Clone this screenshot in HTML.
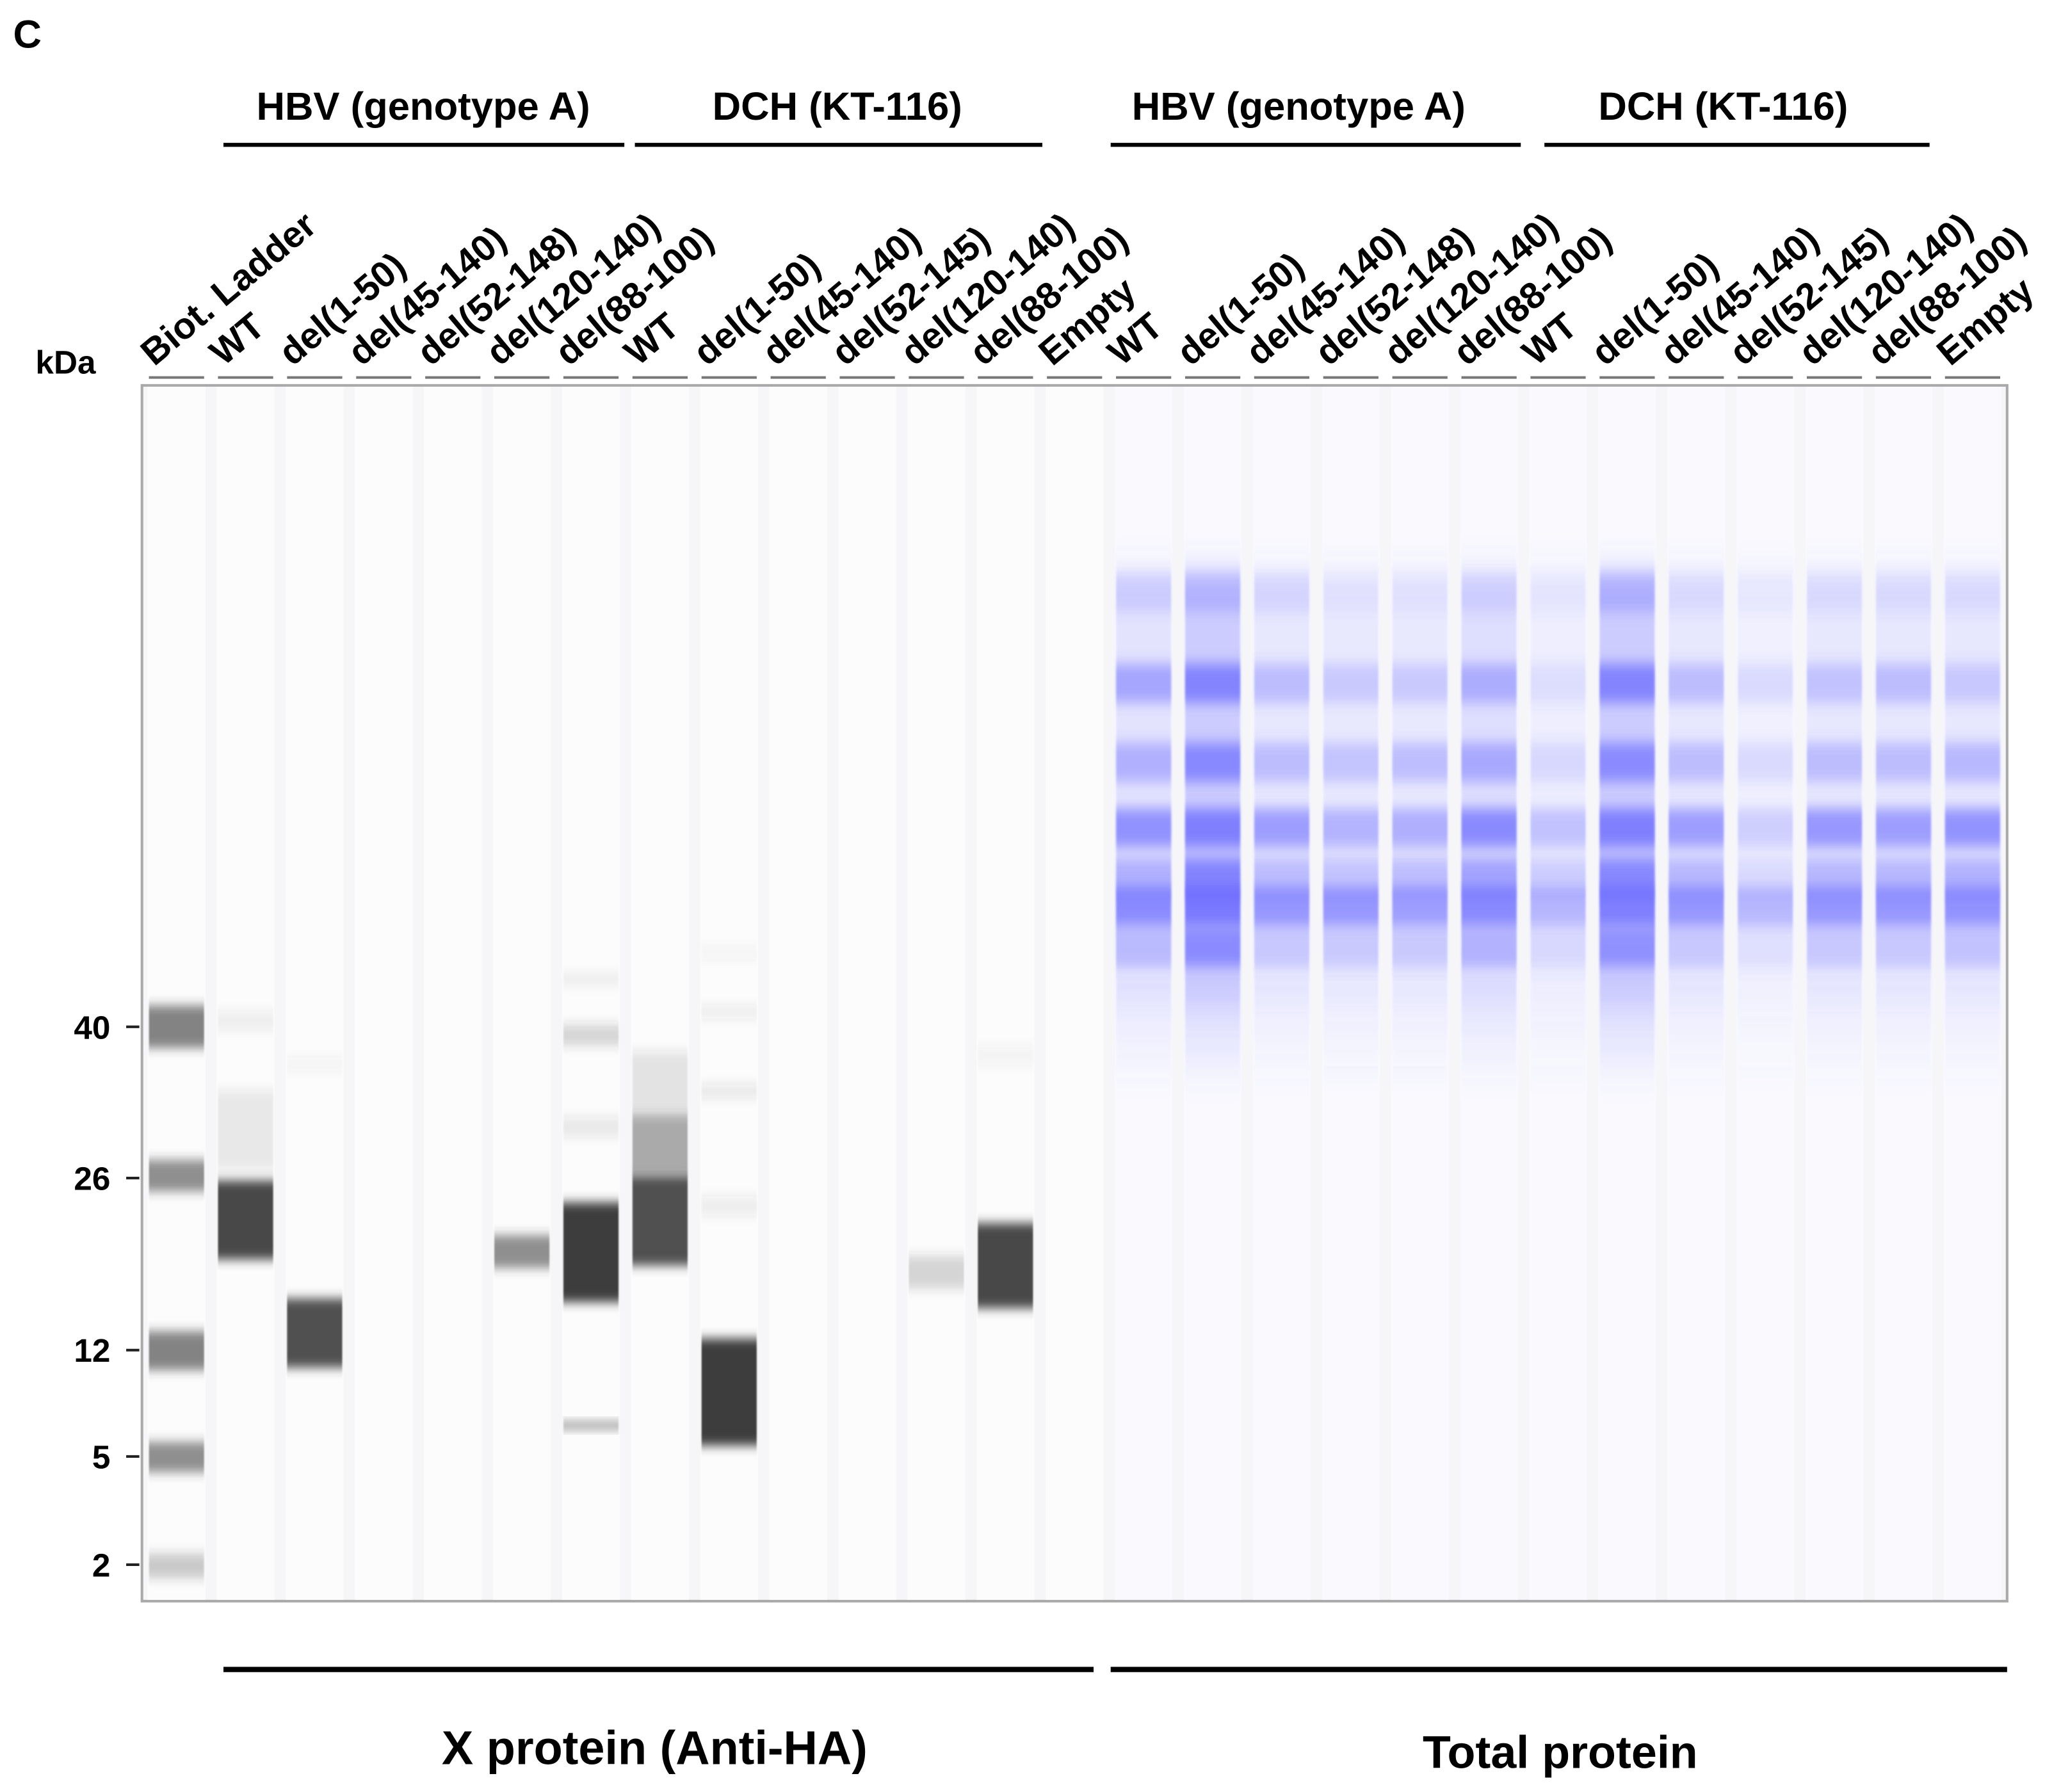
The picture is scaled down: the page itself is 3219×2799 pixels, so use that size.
<!DOCTYPE html>
<html><head><meta charset="utf-8"><style>
html,body{margin:0;padding:0;background:#fff;}
svg{display:block;font-family:"Liberation Sans",Arial,sans-serif;}
</style></head><body>
<svg id="chart" width="3219" height="2799" viewBox="0 0 1568 1363" xmlns="http://www.w3.org/2000/svg">
<defs>
<filter id="blurY" x="-10%" y="-100%" width="120%" height="300%"><feGaussianBlur stdDeviation="0.5 4"/></filter>
<filter id="blurY2" x="-10%" y="-100%" width="120%" height="300%"><feGaussianBlur stdDeviation="0.8 5"/></filter>
<filter id="blurY3" x="-10%" y="-50%" width="120%" height="200%"><feGaussianBlur stdDeviation="0.8 14"/></filter>
</defs>
<text x="10" y="36" font-size="30" font-weight="bold">C</text>
<g id="headers" font-weight="bold" font-size="30" text-anchor="middle">
<text x="322" y="91">HBV (genotype A)</text>
<line x1="170" x2="475" y1="110" y2="110" stroke="#000" stroke-width="3"/>
<text x="637" y="91">DCH (KT-116)</text>
<line x1="483" x2="793" y1="110" y2="110" stroke="#000" stroke-width="3"/>
<text x="988" y="91">HBV (genotype A)</text>
<line x1="845" x2="1157" y1="110" y2="110" stroke="#000" stroke-width="3"/>
<text x="1311" y="91">DCH (KT-116)</text>
<line x1="1175" x2="1468" y1="110" y2="110" stroke="#000" stroke-width="3"/>
</g>
<text x="27" y="284" font-size="25" font-weight="bold">kDa</text>
<rect x="108" y="293" width="1419" height="925" fill="#f6f6f9" stroke="#aaa" stroke-width="2"/>
<g id="lanes"></g>
<g id="bands"></g>
<g id="axis"></g>
<g id="lanelabels" font-weight="bold" font-size="28"></g>
<line x1="170" x2="832" y1="1270" y2="1270" stroke="#000" stroke-width="4"/>
<line x1="845" x2="1527" y1="1270" y2="1270" stroke="#000" stroke-width="4"/>
<text x="498" y="1342" font-size="36" font-weight="bold" text-anchor="middle">X protein (Anti-HA)</text>
<text x="1187" y="1345" font-size="35" font-weight="bold" text-anchor="middle">Total protein</text>
</svg>
<script>
const laneLabels=["Biot. Ladder","WT","del(1-50)","del(45-140)","del(52-148)","del(120-140)","del(88-100)","WT","del(1-50)","del(45-140)","del(52-145)","del(120-140)","del(88-100)","Empty","WT","del(1-50)","del(45-140)","del(52-148)","del(120-140)","del(88-100)","WT","del(1-50)","del(45-140)","del(52-145)","del(120-140)","del(88-100)","Empty"];
const tickKda=[40,26,12,5,2];
const tickMigration=[52.76,65.2,79.35,88.1,97.0];
// gray bands: lane, top migration, bottom migration, intensity
const grayLane=[0,0,0,0,0, 1,1,1, 2,2, 5, 6,6,6,6,6, 7,7,7, 8,8,8,8,8, 11, 12,12];
const grayTop=[51.0,63.7,77.8,86.9,96.1, 51.5,58,65.4, 55.3,75.1, 69.9, 48.3,52.6,60.2,67.2,85.3, 54.8,60,65, 46.2,51,57.5,66.7,78.4, 71.6, 54.3,68.9];
const grayBottom=[54.5,66.3,81.0,89.4,98.1, 53.0,64.5,71.9, 56.4,80.8, 72.6, 49.4,54.3,61.8,75.4,85.8, 60,65,72.4, 47.2,52.1,58.6,68.3,87.2, 74.3, 55.9,75.9];
const grayIntensity=[0.6,0.55,0.6,0.55,0.25, 0.08,0.1,0.9, 0.05,0.85, 0.55, 0.06,0.2,0.1,0.95,0.6, 0.12,0.4,0.85, 0.05,0.08,0.1,0.08,0.95, 0.2, 0.05,0.9];
// total protein (blue) bands
const blueBandPos=[17,24.5,31,36.4,40.5,42.9,46.2];
const blueSmear=[0.15,0.3,0.12,0.1,0.1,0.18,0.08,0.3,0.12,0.06,0.12,0.12,0.12];
const blueLane1=[0.25,0.6,0.5,0.8,0.5,0.85,0.4];
const blueLane2=[0.35,0.85,0.8,0.9,0.85,0.95,0.75];
const blueLane3=[0.2,0.4,0.4,0.7,0.4,0.75,0.3];
const blueLane4=[0.1,0.3,0.35,0.5,0.35,0.75,0.3];
const blueLane5=[0.1,0.3,0.4,0.55,0.4,0.7,0.3];
const blueLane6=[0.2,0.5,0.55,0.85,0.6,0.85,0.45];
const blueLane7=[0.1,0.15,0.2,0.4,0.3,0.5,0.2];
const blueLane8=[0.4,0.85,0.75,0.9,0.8,0.9,0.7];
const blueLane9=[0.15,0.4,0.4,0.7,0.45,0.75,0.3];
const blueLane10=[0.1,0.2,0.2,0.3,0.2,0.5,0.15];
const blueLane11=[0.15,0.35,0.4,0.75,0.45,0.75,0.3];
const blueLane12=[0.15,0.4,0.4,0.7,0.45,0.75,0.3];
const blueLane13=[0.15,0.3,0.45,0.8,0.5,0.8,0.35];
const blueLanes=[blueLane1,blueLane2,blueLane3,blueLane4,blueLane5,blueLane6,blueLane7,blueLane8,blueLane9,blueLane10,blueLane11,blueLane12,blueLane13];

const NS="http://www.w3.org/2000/svg";
const PX=108,PY=293,PW=1419,PH=925;
const laneW=PW/laneLabels.length;
function xCenter(i){return PX+laneW*(i+0.5);}
function yScale(m){return PY+m/100*PH;}
function mk(tag,attrs,parent){const e=document.createElementNS(NS,tag);for(const k in attrs)e.setAttribute(k,attrs[k]);parent.appendChild(e);return e;}
const gL=document.getElementById('lanes'),gB=document.getElementById('bands'),gA=document.getElementById('axis'),gT=document.getElementById('lanelabels');
laneLabels.forEach((lab,i)=>{
  const cx=xCenter(i);
  const r=mk('rect',{x:cx-22,y:PY+1,width:44,height:PH-2,fill:i>=14?'#f9f9fe':'#fcfcfc'},gL);
  
  
  const d=mk('line',{x1:cx-21,x2:cx+21,y1:287,y2:287,stroke:'#777','stroke-width':2},gT);
  
  
  const t=mk('text',{x:0,y:0,transform:`translate(${cx-17},${279}) rotate(-40)`},gT);
  t.textContent=lab;
  
  
});
tickKda.forEach((k,i)=>{
  const y=yScale(tickMigration[i]);
  const l=mk('line',{x1:96,x2:106,y1:y,y2:y,stroke:'#222','stroke-width':2},gA);
  
  
  const t=mk('text',{x:84,y:y+9,'font-size':25,'font-weight':'bold','text-anchor':'end'},gA);
  t.textContent=k;
  
  
});
grayLane.forEach((ln,i)=>{
  const cx=xCenter(ln);const y0=yScale(grayTop[i]),y1=yScale(grayBottom[i]);
  const b=mk('rect',{x:cx-21,y:y0,width:42,height:Math.max(2,y1-y0),fill:'#333','fill-opacity':grayIntensity[i],filter:(y1-y0)>4?'url(#blurY)':''},gB);
  
  
});
blueLanes.forEach((vals,j)=>{
  const ln=14+j;const cx=xCenter(ln);
  const s=mk('rect',{x:cx-21,y:yScale(15.5),width:42,height:yScale(51)-yScale(15.5),fill:'#6464ff','fill-opacity':blueSmear[j],filter:'url(#blurY3)'},gB);
  
  
  const t2=mk('rect',{x:cx-21,y:yScale(49),width:42,height:yScale(56)-yScale(49),fill:'#6464ff','fill-opacity':blueSmear[j]*0.4,filter:'url(#blurY3)'},gB);
  
  
  vals.forEach((v,k)=>{
    const y0=yScale(blueBandPos[k]-1.6),y1=yScale(blueBandPos[k]+1.6);
    const b=mk('rect',{x:cx-21,y:y0,width:42,height:y1-y0,fill:'#5a5aff','fill-opacity':v*0.75,filter:'url(#blurY2)'},gB);
    
    
  });
});
</script>
</body></html>
